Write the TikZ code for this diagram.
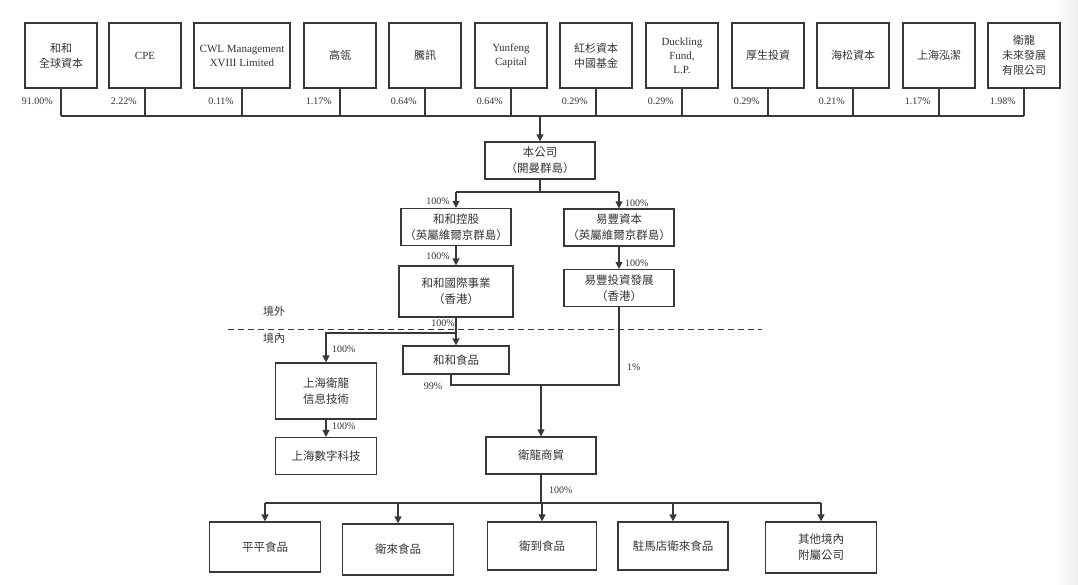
\documentclass[tikz,border=0pt]{standalone}
\usepackage{fontspec}
\setmainfont{Liberation Serif}
\newfontfamily\zh{Noto Sans CJK TC}
\definecolor{wlLine}{HTML}{383838}
\definecolor{wlText}{HTML}{333333}
\definecolor{wlEdge}{HTML}{EDEDED}
\usetikzlibrary{arrows.meta}
\tikzset{
	gudong/.style={
		draw=wlLine,
		line width=1.2pt,
		minimum width=72pt,
		minimum height=65pt,
		inner sep=0pt,
		align=center,
		text=wlText,
		font=\zh\fontsize{11}{15}\selectfont
	},
	gongsi/.style={
		draw=wlLine,
		line width=1.2pt,
		minimum width=110pt,
		minimum height=37pt,
		inner sep=0pt,
		align=center,
		text=wlText,
		font=\zh\fontsize{11.5}{16}\selectfont
	},
	latin/.style={
		font=\fontsize{11}{14}\selectfont
	},
	bili/.style={
		inner sep=0pt,
		text=wlText,
		font=\fontsize{10}{11}\selectfont
	},
	linea/.style={
		line width=1.2pt,
		wlLine
	},
	flecha/.style={
		-{Triangle[length=7pt,width=7pt]},
		line width=1.2pt,
		wlLine
	},
	jiexian/.style={
		line width=1pt,
		wlLine,
		dash pattern=on 6pt off 4pt
	}
}

\begin{document}
\begin{tikzpicture}[x=1pt,y=-1pt]
	\useasboundingbox (0,0) rectangle (1078,584);
	\fill[left color=white, right color=wlEdge] (1056,0) rectangle (1078,584);
	% shareholders
	\node[gudong] (g1) at (61,55.5) {和和\\全球資本};
	\node[gudong, latin] (g2) at (145,55.5) {CPE};
	\node[gudong, latin, minimum width=96pt] (g3) at (242,55.5) {CWL Management\\XVIII Limited};
	\node[gudong] (g4) at (340,55.5) {高瓴};
	\node[gudong] (g5) at (425,55.5) {騰訊};
	\node[gudong, latin] (g6) at (511,55.5) {Yunfeng\\Capital};
	\node[gudong] (g7) at (596,55.5) {紅杉資本\\中國基金};
	\node[gudong, latin] (g8) at (682,55.5) {Duckling\\Fund,\\L.P.};
	\node[gudong] (g9) at (768,55.5) {厚生投資};
	\node[gudong] (g10) at (853,55.5) {海松資本};
	\node[gudong] (g11) at (939,55.5) {上海泓潔};
	\node[gudong] (g12) at (1024,55.5) {衛龍\\未來發展\\有限公司};
	\coordinate (bus) at (0,116);
	\foreach \i/\p in {1/91.00\%,2/2.22\%,3/0.11\%,4/1.17\%,5/0.64\%,6/0.64\%,7/0.29\%,8/0.29\%,9/0.29\%,10/0.21\%,11/1.17\%,12/1.98\%}{
		\draw[linea] (g\i.south) -- (g\i.south |- bus);
		\node[bili, anchor=east] at ([xshift=-8pt]g\i.south |- 0,101) {\p};
	}
	\draw[linea] (g1.south |- bus) -- (g12.south |- bus);

	% offshore
	\node[gongsi] (bgs) at (540,160.5) {本公司\\（開曼群島）};
	\node[gongsi] (hhkg) at (456,227) {和和控股\\（英屬維爾京群島）};
	\node[gongsi] (yfzb) at (619,227.5) {易豐資本\\（英屬維爾京群島）};
	\node[gongsi, minimum width=114pt, minimum height=51pt] (hhgj) at (456,291.5) {和和國際事業\\（香港）};
	\node[gongsi] (yftz) at (619,288) {易豐投資發展\\（香港）};
	\draw[flecha] (bus -| bgs.north) -- (bgs.north);
	\coordinate (fen1) at (0,192);
	\draw[linea] (bgs.south) -- (bgs.south |- fen1);
	\draw[linea] (hhkg.north |- fen1) -- (yfzb.north |- fen1);
	\draw[flecha] (hhkg.north |- fen1) -- (hhkg.north);
	\draw[flecha] (yfzb.north |- fen1) -- (yfzb.north);
	\draw[flecha] (hhkg) -- (hhgj);
	\draw[flecha] (yfzb) -- (yftz);
	\node[bili, anchor=east] at ([xshift=-6pt]hhkg.north |- 0,201) {100\%};
	\node[bili, anchor=west] at ([xshift=6pt]yfzb.north |- 0,203) {100\%};
	\node[bili, anchor=east] at ([xshift=-6pt]hhkg.south |- 0,256) {100\%};
	\node[bili, anchor=west] at ([xshift=6pt]yftz.north |- 0,263) {100\%};

	% border
	\draw[jiexian] (228,329) -- (762,329);
	\node[text=wlText, font=\zh\fontsize{11}{12}\selectfont] (jingwai) at (274,311) {境外};
	\node[text=wlText, font=\zh\fontsize{11}{12}\selectfont] (jingnei) at (274,338) {境內};

	% onshore
	\node[gongsi, minimum width=106pt, minimum height=28pt] (hhsp) at (456,360) {和和食品};
	\node[gongsi, minimum width=101pt, minimum height=56pt] (shwl) at (326,391) {上海衛龍\\信息技術};
	\node[gongsi, minimum width=101pt] (shsz) at (326,456) {上海數字科技};
	\node[gongsi] (wlsm) at (541,455.5) {衛龍商貿};
	\draw[flecha] (hhgj) -- (hhsp);
	\coordinate (fen2) at (0,333);
	\draw[flecha] (hhgj.south |- fen2) -| (shwl.north);
	\draw[flecha] (shwl) -- (shsz);
	\coordinate (fen3) at (0,385);
	\draw[linea] ([xshift=-5pt]hhsp.south) |- (yftz.south |- fen3) -- (yftz.south);
	\draw[flecha] (wlsm.north |- fen3) -- (wlsm.north);
	\node[bili, anchor=east] at ([xshift=-1pt]hhgj.south |- 0,323) {100\%};
	\node[bili, anchor=west] at ([xshift=6pt]shwl.north |- 0,349) {100\%};
	\node[bili, anchor=west] at ([xshift=6pt]shwl.south |- 0,426) {100\%};
	\node[bili] at (433,386) {99\%};
	\node[bili, anchor=west] at ([xshift=8pt]yftz.south |- 0,367) {1\%};

	% subsidiaries
	\node[gongsi, minimum width=111pt, minimum height=50pt] (zi1) at (265,547) {平平食品};
	\node[gongsi, minimum width=111pt, minimum height=51pt] (zi2) at (398,549.5) {衛來食品};
	\node[gongsi, minimum width=109pt, minimum height=48pt] (zi3) at (542,546) {衛到食品};
	\node[gongsi, minimum width=110pt, minimum height=48pt] (zi4) at (673,546) {駐馬店衛來食品};
	\node[gongsi, minimum width=111pt, minimum height=51pt] (zi5) at (821,547.5) {其他境內\\附屬公司};
	\coordinate (fen4) at (0,503);
	\draw[linea] (wlsm.south) -- (wlsm.south |- fen4);
	\draw[linea] (zi1.north |- fen4) -- (zi5.north |- fen4);
	\foreach \k in {1,...,5}
		\draw[flecha] (zi\k.north |- fen4) -- (zi\k.north);
	\node[bili, anchor=west] at ([xshift=8pt]wlsm.south |- 0,490) {100\%};
\end{tikzpicture}
\end{document}
